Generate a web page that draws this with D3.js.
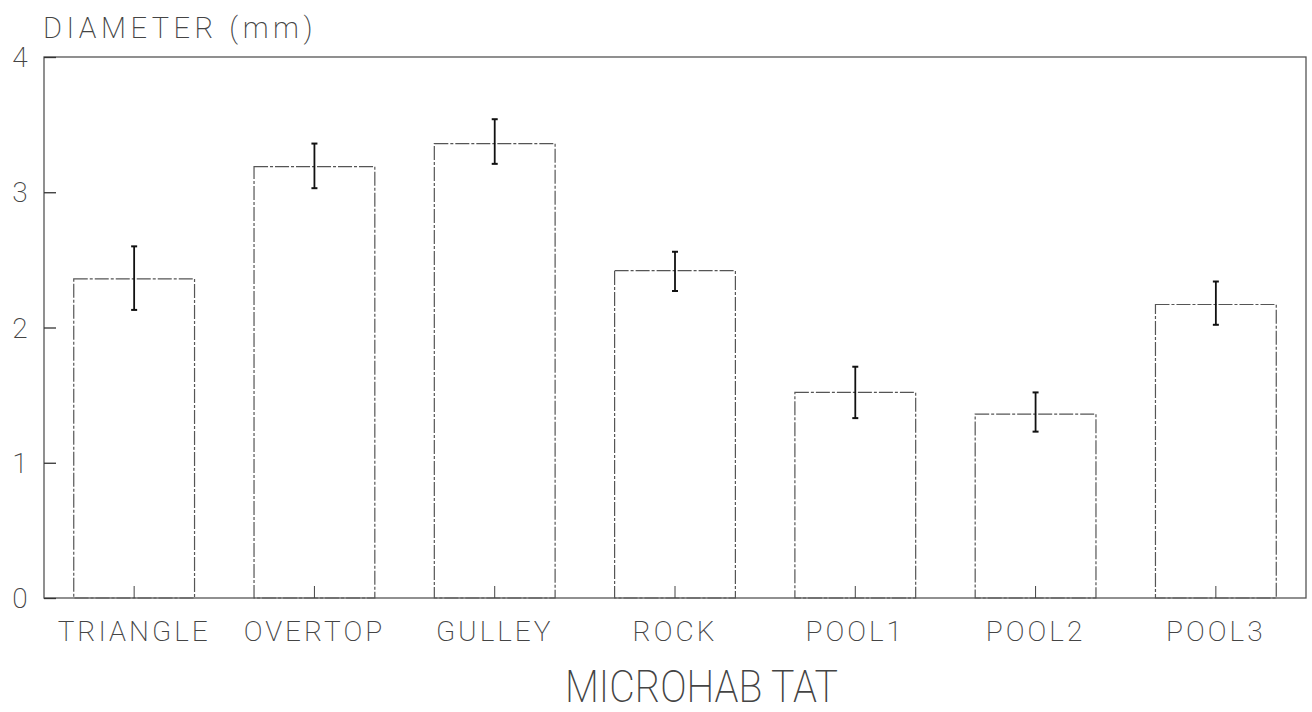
<!DOCTYPE html>
<html><head><meta charset="utf-8">
<script src="https://cdn.jsdelivr.net/npm/d3@7"></script>
<style>
html,body{margin:0;padding:0;background:#fff;}
svg{display:block;}
text{font-family:Roboto, "DejaVu Sans", sans-serif;font-weight:200;fill:#444;}
</style></head>
<body>
<svg id="chart" width="1312" height="712"></svg>
<script>
const categories = ["TRIANGLE","OVERTOP","GULLEY","ROCK","POOL1","POOL2","POOL3"];
const means = [2.36, 3.19, 3.36, 2.42, 1.52, 1.36, 2.17];
const upper = [2.60, 3.36, 3.54, 2.56, 1.71, 1.52, 2.34];
const lower = [2.13, 3.03, 3.21, 2.27, 1.33, 1.23, 2.02];
const yTicks = [0, 1, 2, 3, 4];
const yTitle = "DIAMETER (mm)";
const xTitle = "MICROHAB TAT";

(function () {
const svg = d3.select("#chart");
const pL = 44, pR = 1306, pT = 57, pB = 598;

const x = d3.scaleBand().domain(categories).range([pL, pR]).paddingInner(0.33).paddingOuter(0.165);
const y = d3.scaleLinear().domain([0, 4]).range([pB, pT]);

const data = categories.map((c, i) => ({c, m: means[i], hi: upper[i], lo: lower[i]}));

// frame
svg.append("rect").attr("x", pL).attr("y", pT).attr("width", pR - pL).attr("height", pB - pT)
  .attr("fill", "none").attr("stroke", "#555").attr("stroke-width", 1.3);

// y axis ticks (inward)
const yAxis = d3.axisRight(y).tickValues(yTicks).tickSize(12).tickFormat("");
const gy = svg.append("g").attr("transform", `translate(${pL},0)`).call(yAxis);
gy.select(".domain").remove();
gy.selectAll("line").attr("stroke", "#333").attr("stroke-width", 1.3);

svg.append("g").selectAll("text").data(yTicks).join("text")
  .attr("x", 20).attr("y", d => y(d)).attr("dy", "0.36em")
  .attr("text-anchor", "middle").attr("font-size", 28).text(d => d);

// bars
svg.append("g").selectAll("rect").data(data).join("rect")
  .attr("x", d => x(d.c)).attr("y", d => y(d.m))
  .attr("width", x.bandwidth()).attr("height", d => y(0) - y(d.m))
  .attr("fill", "none").attr("stroke", "#555").attr("stroke-width", 1.2)
  .attr("stroke-dasharray", "14,2,3,2");

// x axis ticks at centres (upward)
const xAxis = d3.axisTop(x).tickSize(12).tickFormat("");
const gx = svg.append("g").attr("transform", `translate(0,${pB})`).call(xAxis);
gx.select(".domain").remove();
gx.selectAll("line").attr("stroke", "#444").attr("stroke-width", 1);

// error bars
const eb = svg.append("g").selectAll("g").data(data).join("g")
  .attr("transform", d => `translate(${x(d.c) + x.bandwidth() / 2},0)`);
eb.append("line").attr("x1", 0).attr("x2", 0).attr("y1", d => y(d.hi)).attr("y2", d => y(d.lo))
  .attr("stroke", "#111").attr("stroke-width", 1.8);
eb.append("line").attr("x1", -3).attr("x2", 3).attr("y1", d => y(d.hi)).attr("y2", d => y(d.hi))
  .attr("stroke", "#111").attr("stroke-width", 2);
eb.append("line").attr("x1", -3).attr("x2", 3).attr("y1", d => y(d.lo)).attr("y2", d => y(d.lo))
  .attr("stroke", "#111").attr("stroke-width", 2);

// category labels
svg.append("g").selectAll("text").data(categories).join("text")
  .attr("x", d => x(d) + x.bandwidth() / 2).attr("y", 641)
  .attr("text-anchor", "middle").attr("font-size", 28).attr("letter-spacing", "3px")
  .text(d => d);

// titles
svg.append("text").attr("x", 43).attr("y", 38).attr("font-size", 29).attr("letter-spacing", "4.5px").text(yTitle);
svg.append("text").attr("x", 565).attr("y", 702)
  .attr("font-size", 45).attr("textLength", 273).attr("lengthAdjust", "spacingAndGlyphs").text(xTitle);
})();
</script>
</body></html>
